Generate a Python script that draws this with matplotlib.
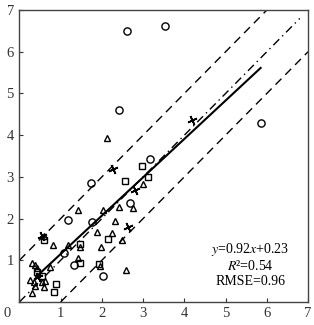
import numpy as np
import matplotlib
matplotlib.use("Agg")
import matplotlib.pyplot as plt

plt.rcParams["font.family"] = ["Liberation Serif", "DejaVu Serif"]
plt.rcParams["mathtext.fontset"] = "stix"

# observed vs predicted values, one group per marker style
circle_x = [2.61, 3.53, 2.41, 5.86, 3.17, 2.68, 1.74, 1.76, 1.18, 1.08, 1.32, 2.03]
circle_y = [6.50, 6.62, 4.60, 4.29, 3.43, 2.37, 2.85, 1.92, 1.97, 1.18, 0.89, 0.62]

tri_x = [2.12, 1.42, 2.03, 2.42, 2.75, 2.99, 2.32, 1.88, 2.24, 0.82, 1.18, 1.47,
         1.98, 2.48, 1.42, 0.74, 1.95, 2.58, 0.59,
         0.30, 0.38, 0.43, 0.25, 0.35, 0.55, 0.62, 0.38, 0.60, 0.30]
tri_y = [3.93, 2.21, 2.21, 2.28, 2.25, 2.83, 1.94, 1.68, 1.65, 1.37, 1.37, 1.32,
         1.32, 1.49, 1.06, 0.84, 0.86, 0.77, 1.58,
         0.94, 0.89, 0.82, 0.53, 0.48, 0.48, 0.50, 0.38, 0.36, 0.22]

sq_x = [2.97, 3.12, 2.56, 2.15, 1.47, 1.47, 1.93, 0.59, 0.42, 0.55, 0.88, 0.83]
sq_y = [3.26, 3.00, 2.90, 1.51, 1.39, 0.94, 0.91, 1.49, 0.72, 0.62, 0.44, 0.25]

cross_x = [4.19, 2.27, 2.80, 2.63, 0.55, 0.45]
cross_y = [4.36, 3.19, 2.69, 1.80, 1.58, 0.60]

# fitted line y = slope*x + intercept
slope, intercept = 0.92, 0.23
fit_range = [0.4, 5.85]

fig = plt.figure(figsize=(3.14, 3.25), dpi=100)
ax = fig.add_axes([0.062, 0.071, 0.919, 0.898])

mk = dict(linestyle="none", markerfacecolor="none", markeredgecolor="black",
          markeredgewidth=1.0)
ax.plot(circle_x, circle_y, marker="o", markersize=5.2, **mk)
ax.plot(tri_x, tri_y, marker="^", markersize=5, **mk)
ax.plot(sq_x, sq_y, marker="s", markersize=5, **mk)
ax.plot(cross_x, cross_y, linestyle="none", marker=(4, 2, 25), markersize=7,
        markeredgecolor="black", markeredgewidth=1.2)

xf = np.array(fit_range)
ax.plot(xf, slope * xf + intercept, color="black", linewidth=1.5)
ax.plot([0, 6.8], [0, 6.8], color="black", linewidth=1.0, linestyle=(0, (6, 3, 1, 3)))
ax.plot([0, 6], [1, 7], color="black", linewidth=1.0, linestyle=(0, (6, 4)))
ax.plot([1, 7], [0, 6], color="black", linewidth=1.0, linestyle=(0, (6, 4)))

ax.text(5.6, 1.25, "$y$=0.92$x$+0.23", ha="center", va="center", fontsize=10)
ax.text(5.6, 0.86, "$R$²=0.54", ha="center", va="center", fontsize=10)
ax.text(5.6, 0.49, "RMSE=0.96", ha="center", va="center", fontsize=10)

ax.set_xlim(0, 7)
ax.set_ylim(0, 7)
ax.set_xticks(range(0, 8))
ax.set_yticks(range(0, 8))
ax.tick_params(direction="in", length=3, width=0.8, labelsize=10.5, pad=4,
               colors="#333333")
ax.set_xticklabels(["" if i == 0 else str(i) for i in range(8)])
ax.set_yticklabels(["" if i == 0 else str(i) for i in range(8)])
for s in ax.spines.values():
    s.set_linewidth(1.0)
    s.set_color("#444444")

fig.text(0.022, 0.035, "0", fontsize=10.5, color="#333333", ha="center", va="center")

fig.savefig("out.png", dpi=100)
